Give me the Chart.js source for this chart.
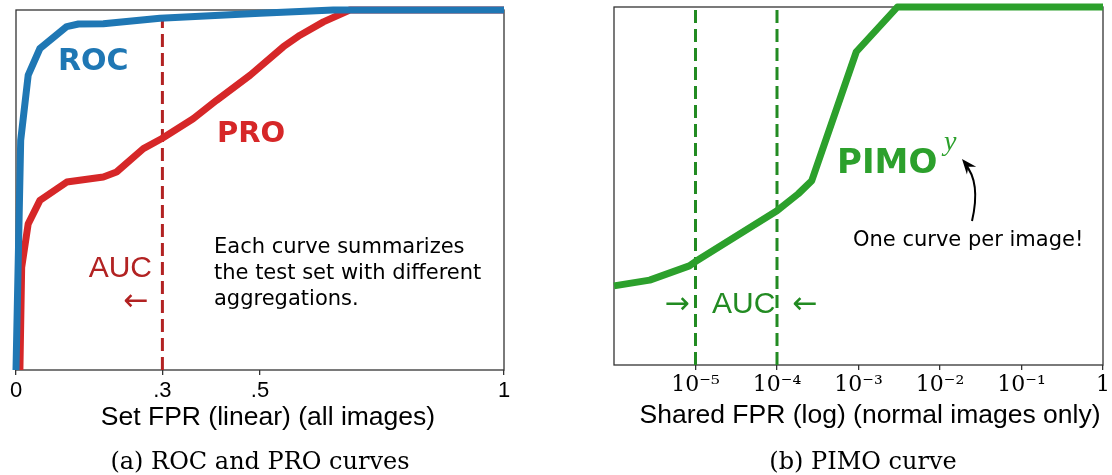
<!DOCTYPE html>
<html>
<head>
<meta charset="utf-8">
<script src="https://cdn.jsdelivr.net/npm/chart.js@4.4.0/dist/chart.umd.min.js"></script>
<style>
  body { margin: 0; background: #fff; }
  canvas { position: absolute; top: 0; }
  #left { left: 0; }
  #right { left: 556px; }
</style>
</head>
<body>
<canvas id="left" width="556" height="475"></canvas>
<canvas id="right" width="556" height="475"></canvas>
<script>
// ---- data ----
const rocX = [0, 0.0096, 0.025, 0.049, 0.104, 0.128, 0.179, 0.295, 0.5, 0.65, 1];
const rocY = [0, 0.638, 0.819, 0.893, 0.954, 0.961, 0.962, 0.977, 0.991, 1, 1];

const proX = [0.008, 0.0116, 0.025, 0.049, 0.104, 0.179, 0.206, 0.261, 0.299, 0.363, 0.411, 0.48, 0.548, 0.582, 0.63, 0.684, 1];
const proY = [0, 0.285, 0.406, 0.471, 0.522, 0.536, 0.55, 0.615, 0.643, 0.698, 0.749, 0.819, 0.898, 0.93, 0.967, 1, 1];

const pimoX = [1e-6, 2.74e-6, 8.4e-6, 1e-5, 1e-4, 1.82e-4, 2.67e-4, 9.4e-4, 3.0e-3, 1];
const pimoY = [0.221, 0.237, 0.277, 0.289, 0.431, 0.478, 0.515, 0.875, 1, 1];

const setFprCut = 0.3;
const sharedFprBounds = [1e-5, 1e-4];

const linTicks = [0, 0.3, 0.5, 1];
const linTickText = ['0', '.3', '.5', '1'];
const logTicks = [1e-5, 1e-4, 1e-3, 1e-2, 1e-1, 1];
const logTickText = ['10\u207B\u2075', '10\u207B\u2074', '10\u207B\u00B3', '10\u207B\u00B2', '10\u207B\u00B9', '1'];

const toPts = (xs, ys) => xs.map((x, i) => ({x: x, y: ys[i]}));
const vline = v => [{x: v, y: 0}, {x: v, y: 1}];

const BLUE = '#1f77b4', RED = '#d62728', GREEN = '#2ca02c';
const DRED = '#b22222', DGREEN = '#228b22';

function txt(ctx, s, x, y, font, color, align, base) {
  ctx.save();
  ctx.font = font;
  ctx.fillStyle = color;
  ctx.textAlign = align || 'left';
  ctx.textBaseline = base || 'alphabetic';
  ctx.fillText(s, x, y);
  ctx.restore();
}

const frame = {
  id: 'frame',
  beforeDatasetsDraw(chart) {
    const a = chart.chartArea, c = chart.ctx;
    c.save();
    c.strokeStyle = '#333';
    c.lineWidth = 1.3;
    c.strokeRect(a.left, a.top, a.width, a.height);
    c.restore();
  }
};

function lineSet(pts, color, w, dash) {
  return {
    data: pts, borderColor: color, borderWidth: w, borderDash: dash || [],
    pointRadius: 0, tension: 0, fill: false, clip: false,
    borderJoinStyle: 'round', borderCapStyle: 'butt'
  };
}

function baseOpts(xScale, pad) {
  return {
    responsive: false, animation: false, devicePixelRatio: 1,
    layout: {padding: pad},
    plugins: {legend: {display: false}, tooltip: {enabled: false}},
    scales: {
      x: xScale,
      y: {min: 0, max: 1, display: false}
    }
  };
}

// ---- (a) ROC and PRO ----
const notesA = {
  id: 'notesA',
  afterDraw(chart) {
    const c = chart.ctx;
    txt(c, 'ROC', 58, 70, 'bold 30px "DejaVu Sans"', BLUE);
    txt(c, 'PRO', 217, 142, 'bold 29px "DejaVu Sans"', RED);
    txt(c, 'AUC', 152, 277, '30px "Liberation Sans"', DRED, 'right');
    txt(c, '\u2190', 136, 302, '30px "DejaVu Sans"', DRED, 'center', 'middle');
    const lines = ['Each curve summarizes', 'the test set with different', 'aggregations.'];
    lines.forEach((l, i) => txt(c, l, 214, 253 + i * 26, '21px "DejaVu Sans"', '#000'));
    txt(c, 'Set FPR (linear) (all images)', 268, 425, '26.5px "Liberation Sans"', '#000', 'center');
    txt(c, '(a) ROC and PRO curves', 260, 469, '24px "DejaVu Serif"', '#000', 'center');
  }
};

new Chart(document.getElementById('left'), {
  type: 'line',
  data: {
    datasets: [
      lineSet(toPts(rocX, rocY), BLUE, 7),
      lineSet(toPts(proX, proY), RED, 7),
      lineSet(vline(setFprCut), DRED, 3, [13, 6])
    ]
  },
  options: baseOpts({
    type: 'linear', min: 0, max: 1,
    afterBuildTicks: s => { s.ticks = linTicks.map(v => ({value: v})); },
    afterFit: s => { s.height = 105; },
    grid: {drawOnChartArea: false, drawTicks: true, tickLength: 5, color: '#333', lineWidth: 1.3},
    border: {display: false},
    ticks: {
      autoSkip: false, maxRotation: 0, padding: 3, color: '#000',
      font: {family: 'Liberation Sans', size: 22},
      callback: (v, i) => linTickText[i]
    }
  }, {left: 16, top: 10, right: 52, bottom: 0}),
  plugins: [frame, notesA]
});

// ---- (b) PIMO ----
const notesB = {
  id: 'notesB',
  afterDraw(chart) {
    const c = chart.ctx;
    txt(c, 'PIMO', 281, 173, 'bold 34px "DejaVu Sans"', GREEN);
    txt(c, 'y', 388, 150, 'italic 28px "Liberation Serif"', GREEN);
    // curved pointer to the label
    const sx = 416, sy = 221, cx = 425, cy = 182, ex = 406, ey = 159;
    c.save();
    c.strokeStyle = '#000';
    c.fillStyle = '#000';
    c.lineWidth = 2;
    c.beginPath();
    c.moveTo(sx, sy);
    c.quadraticCurveTo(cx, cy, ex + 3, ey + 5);
    c.stroke();
    const ang = Math.atan2(ey - cy, ex - cx);
    c.beginPath();
    c.moveTo(ex, ey);
    c.lineTo(ex - 15 * Math.cos(ang) + 6 * Math.sin(ang), ey - 15 * Math.sin(ang) - 6 * Math.cos(ang));
    c.lineTo(ex - 10 * Math.cos(ang), ey - 10 * Math.sin(ang));
    c.lineTo(ex - 15 * Math.cos(ang) - 6 * Math.sin(ang), ey - 15 * Math.sin(ang) + 6 * Math.cos(ang));
    c.closePath();
    c.fill();
    c.restore();
    txt(c, 'One curve per image!', 297, 246, '21px "DejaVu Sans"', '#000');
    txt(c, 'AUC', 156, 313, '30px "Liberation Sans"', DGREEN);
    txt(c, '\u2192', 121, 305, '30px "DejaVu Sans"', DGREEN, 'center', 'middle');
    txt(c, '\u2190', 249, 305, '30px "DejaVu Sans"', DGREEN, 'center', 'middle');
    txt(c, 'Shared FPR (log) (normal images only)', 314, 423, '26.5px "Liberation Sans"', '#000', 'center');
    txt(c, '(b) PIMO curve', 307, 469, '24px "DejaVu Serif"', '#000', 'center');
  }
};

new Chart(document.getElementById('right'), {
  type: 'line',
  data: {
    datasets: [
      lineSet(toPts(pimoX, pimoY), GREEN, 7),
      lineSet(vline(sharedFprBounds[0]), DGREEN, 3, [13, 6]),
      lineSet(vline(sharedFprBounds[1]), DGREEN, 3, [13, 6])
    ]
  },
  options: baseOpts({
    type: 'logarithmic', min: 1e-6, max: 1,
    afterBuildTicks: s => { s.ticks = logTicks.map(v => ({value: v})); },
    afterFit: s => { s.height = 110; },
    grid: {drawOnChartArea: false, drawTicks: true, tickLength: 5, color: '#333', lineWidth: 1.3},
    border: {display: false},
    ticks: {
      autoSkip: false, maxRotation: 0, padding: 2, color: '#000',
      font: {family: 'DejaVu Serif', size: 22},
      callback: (v, i) => logTickText[i]
    }
  }, {left: 58, top: 7, right: 4, bottom: 0}),
  plugins: [frame, notesB]
});
</script>
</body>
</html>
